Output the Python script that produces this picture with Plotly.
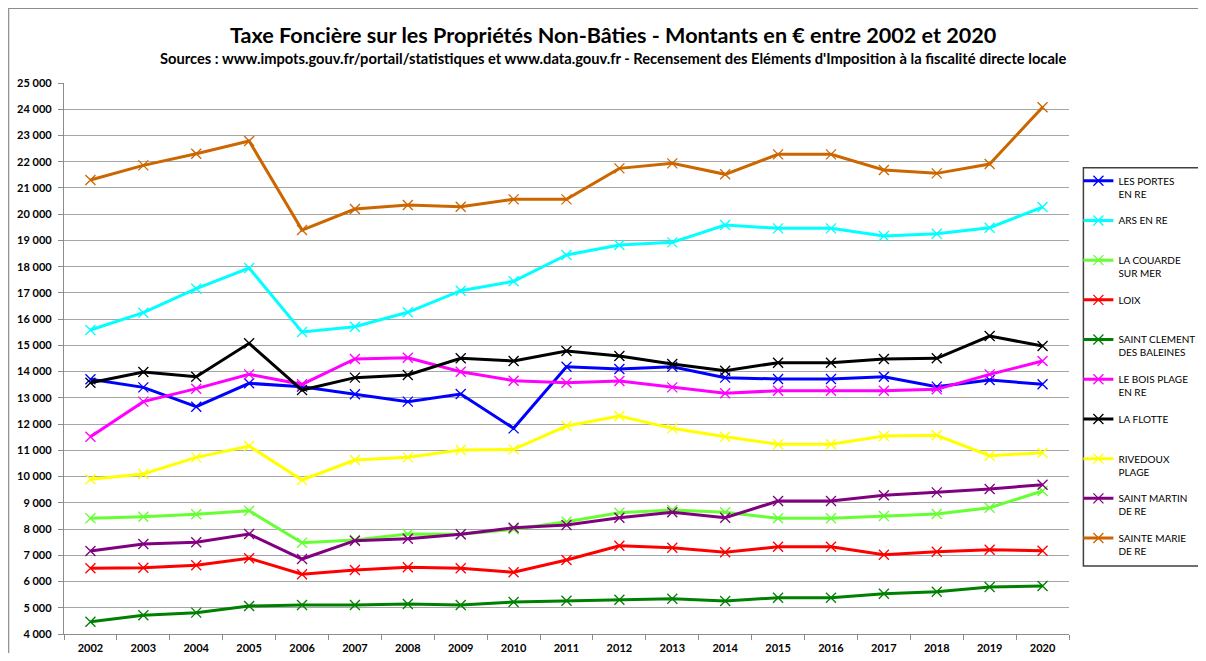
import plotly.graph_objects as go

years = [str(y) for y in range(2002, 2021)]

les_portes = [13706, 13401, 12663, 13554, 13427, 13135, 12855, 13146, 11838, 14188,
              14099, 14188, 13770, 13718, 13718, 13807, 13427, 13680, 13516]
ars = [15585, 16245, 17160, 17948, 15509, 15712, 16260, 17083, 17441, 18444,
       18825, 18927, 19587, 19460, 19460, 19170, 19256, 19485, 20272]
la_couarde = [8409, 8471, 8562, 8699, 7480, 7582, 7811, 7799, 7990, 8280,
              8623, 8726, 8638, 8409, 8409, 8497, 8573, 8814, 9450]
loix = [6503, 6528, 6617, 6884, 6275, 6439, 6541, 6503, 6351, 6820,
        7365, 7289, 7113, 7327, 7327, 7022, 7136, 7212, 7175]
saint_clement = [4470, 4712, 4814, 5067, 5105, 5105, 5143, 5105, 5220, 5270,
                 5308, 5346, 5258, 5384, 5384, 5537, 5613, 5791, 5829]
bois_plage = [11520, 12855, 13350, 13896, 13516, 14480, 14530, 13998, 13655, 13578,
              13642, 13401, 13173, 13274, 13274, 13274, 13325, 13896, 14404]
la_flotte = [13578, 13985, 13807, 15078, 13299, 13770, 13871, 14507, 14404, 14785,
             14595, 14290, 14036, 14340, 14340, 14480, 14507, 15357, 14976]
rivedoux = [9896, 10098, 10733, 11165, 9869, 10631, 10733, 11012, 11037, 11927,
            12308, 11838, 11520, 11229, 11229, 11546, 11572, 10795, 10910]
saint_martin = [7163, 7430, 7494, 7811, 6858, 7556, 7633, 7799, 8051, 8154,
                8432, 8638, 8432, 9069, 9069, 9285, 9399, 9526, 9690]
sainte_marie = [21302, 21861, 22306, 22788, 19396, 20196, 20349, 20285, 20566, 20566,
                21747, 21938, 21519, 22281, 22281, 21683, 21556, 21911, 24073]

series = [
    ("LES PORTES<br>EN RE", les_portes, "#0000FF"),
    ("ARS EN RE<br>&nbsp;", ars, "#00FFFF"),
    ("LA COUARDE<br>SUR MER", la_couarde, "#66FF33"),
    ("LOIX<br>&nbsp;", loix, "#FF0000"),
    ("SAINT CLEMENT<br>DES BALEINES", saint_clement, "#008000"),
    ("LE BOIS PLAGE<br>EN RE", bois_plage, "#FF00FF"),
    ("LA FLOTTE<br>&nbsp;", la_flotte, "#000000"),
    ("RIVEDOUX<br>PLAGE", rivedoux, "#FFFF00"),
    ("SAINT MARTIN<br>DE RE", saint_martin, "#800080"),
    ("SAINTE MARIE<br>DE RE", sainte_marie, "#CC6600"),
]

FONT = "Lato"

fig = go.Figure()
for i, (name, vals, col) in enumerate(series):
    fig.add_trace(go.Scatter(
        x=years, y=vals, name=name, mode="lines+markers",
        legendgroup=f"g{i}",
        line=dict(color=col, width=3),
        marker=dict(symbol="x-thin", size=10, color=col,
                    line=dict(width=1.3, color=col)),
    ))

# page offset caused by the default body margin (8px on each side)
OFF = 8
W, H = 1190, 645
# plot area in page pixels: left 64, right 1068.6, top 83.3, bottom 634
PL, PR, PT, PB = 64, 1068.6, 83.3, 634
L, R, T, B = PL - OFF, PR - OFF, PT - OFF, PB - OFF
pw, ph = R - L, B - T

def px(x):  # page x -> paper
    return (x - PL) / pw

def py(y):  # page y -> paper
    return (PB - y) / ph

fig.update_layout(
    width=W, height=H,
    margin=dict(l=L, r=W - R, t=T, b=H - B, autoexpand=False),
    paper_bgcolor="white", plot_bgcolor="white",
    separators=", ",
    font=dict(family=FONT, color="#000000"),
    showlegend=True,
    legend=dict(
        x=px(1078), y=py(168), xanchor="left", yanchor="top",
        borderwidth=0, bgcolor="rgba(0,0,0,0)",
        font=dict(family=FONT, size=10, color="#000000"),
        tracegroupgap=10.7, valign="top", itemwidth=30,
    ),
    annotations=[
        dict(text="<b>Taxe Foncière sur les Propriétés Non-Bâties - Montants en € entre 2002 et 2020</b>",
             x=px(613), y=py(35), xref="paper", yref="paper", showarrow=False,
             xanchor="center", yanchor="middle",
             font=dict(family=FONT, size=21.6, color="#000000")),
        dict(text="<b>Sources : www.impots.gouv.fr/portail/statistiques et www.data.gouv.fr - Recensement des Eléments d'Imposition à la fiscalité directe locale</b>",
             x=px(613), y=py(58), xref="paper", yref="paper", showarrow=False,
             xanchor="center", yanchor="middle",
             font=dict(family=FONT, size=14.7, color="#000000")),
    ],
    shapes=[
        dict(type="rect", xref="paper", yref="paper",
             x0=px(OFF + 0.7), x1=px(1400), y0=py(900), y1=py(OFF + 0.7),
             line=dict(color="#8c8c8c", width=1.2), fillcolor="rgba(0,0,0,0)",
             layer="below"),
        dict(type="rect", xref="paper", yref="paper",
             x0=px(1083), x1=px(1230), y0=py(566), y1=py(168),
             line=dict(color="#404040", width=1.5), fillcolor="white",
             layer="below"),
    ],
)

fig.update_xaxes(
    type="category", range=[-0.5, 18.5],
    showline=True, linecolor="#8c8c8c", linewidth=1.3,
    ticks="outside", tickson="boundaries", ticklen=5, tickcolor="#8c8c8c",
    ticklabelstandoff=4,
    showgrid=False,
    tickfont=dict(family=FONT, size=11, color="#000000", weight="bold"),
)
fig.update_yaxes(
    range=[4000, 25000], dtick=1000, tick0=4000, tickformat=",d",
    showline=True, linecolor="#8c8c8c", linewidth=1.3,
    ticks="outside", ticklen=5, tickcolor="#8c8c8c",
    ticklabelstandoff=4,
    showgrid=True, gridcolor="#a6a6a6", gridwidth=1.3,
    zeroline=False,
    tickfont=dict(family=FONT, size=11, color="#000000", weight="bold"),
)

fig.write_html("out.html")
